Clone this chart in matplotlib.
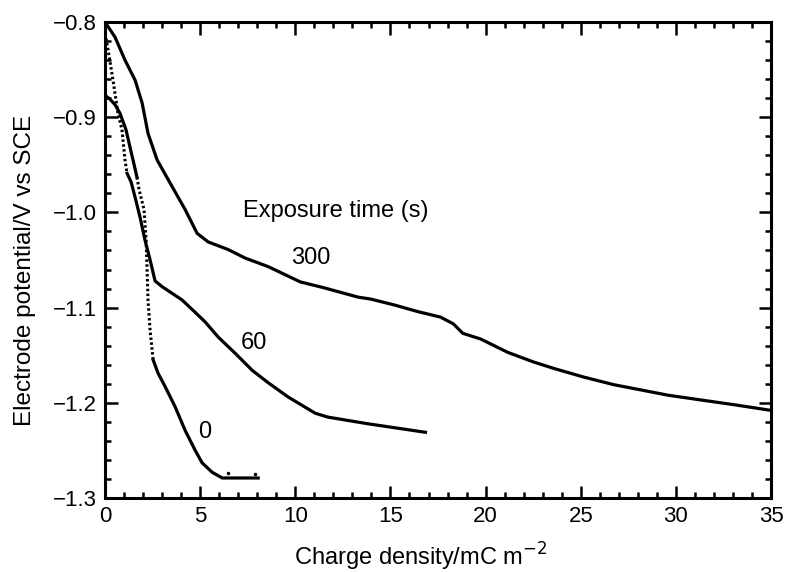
import matplotlib.pyplot as plt
from matplotlib.ticker import MultipleLocator, FuncFormatter

plt.rcParams['font.family'] = ['Liberation Sans', 'DejaVu Sans']

# 300 s exposure
x300 = [0, 0.53, 1.05, 1.58, 1.95, 2.26, 2.74, 3.53, 4.21, 4.84, 5.42, 6.47, 7.37, 8.58,
        10.26, 11.47, 13.3, 13.95, 15.16, 16.4, 17.63, 18.3, 18.8, 19.74, 21.16, 22.5,
        23.6, 25.16, 26.74, 27.26, 29.58, 31.3, 33.05, 35.0]
y300 = [-0.800, -0.816, -0.840, -0.861, -0.885, -0.917, -0.945, -0.973, -0.997, -1.022,
        -1.031, -1.039, -1.048, -1.057, -1.073, -1.079, -1.089, -1.091, -1.097, -1.104,
        -1.110, -1.117, -1.127, -1.133, -1.147, -1.157, -1.164, -1.173, -1.181, -1.183,
        -1.192, -1.197, -1.202, -1.208]

# 60 s exposure: fast (dotted) start, then solid
x60_fast = [0, 0.16, 0.42, 0.68, 0.89, 1.05, 1.16]
y60_fast = [-0.812, -0.829, -0.861, -0.896, -0.913, -0.945, -0.959]
x60 = [1.16, 1.37, 1.58, 1.84, 2.1, 2.37, 2.63, 3.0, 4.05, 4.74, 5.26, 5.95, 6.84, 7.74,
       8.58, 9.63, 11.05, 11.7, 13.8, 16.84]
y60 = [-0.959, -0.968, -0.984, -1.005, -1.029, -1.050, -1.072, -1.078, -1.092, -1.105,
       -1.115, -1.131, -1.148, -1.166, -1.179, -1.194, -1.211, -1.215, -1.222, -1.231]

# 0 s exposure: solid start, fast (dotted) drop, solid tail
x0_start = [0, 0.26, 0.53, 0.79, 1.1, 1.32, 1.53, 1.68]
y0_start = [-0.877, -0.881, -0.887, -0.896, -0.913, -0.932, -0.950, -0.963]
x0_fast = [1.68, 1.79, 2.05, 2.16, 2.21, 2.26, 2.37, 2.53]
y0_fast = [-0.963, -0.976, -0.997, -1.029, -1.060, -1.092, -1.124, -1.155]
x0_tail = [2.53, 2.79, 3.16, 3.68, 4.21, 4.74, 5.1, 5.63, 6.16, 7.0, 8.05]
y0_tail = [-1.155, -1.169, -1.183, -1.204, -1.229, -1.250, -1.263, -1.273, -1.279, -1.279, -1.279]
x0_specks = [6.45, 7.9]
y0_specks = [-1.274, -1.275]

fig = plt.figure(figsize=(7.86, 5.72), dpi=100)
ax = fig.add_axes([0.1336, 0.1294, 0.8474, 0.8321])

lw = 2.3
ax.plot(x300, y300, color='black', lw=lw)
ax.plot(x60_fast, y60_fast, color='black', lw=2.2, linestyle=(0, (0.8, 0.8)))
ax.plot(x60, y60, color='black', lw=lw)
ax.plot(x0_start, y0_start, color='black', lw=lw)
ax.plot(x0_fast, y0_fast, color='black', lw=2.2, linestyle=(0, (0.8, 0.8)))
ax.plot(x0_tail, y0_tail, color='black', lw=lw)
ax.plot(x0_specks, y0_specks, 'k.', ms=3)

ax.text(7.26, -0.9985, "Exposure time (s)", fontsize=17, va='center', ha='left')
ax.text(10.8, -1.048, "300", fontsize=17, va='center', ha='center')
ax.text(7.8, -1.137, "60", fontsize=17, va='center', ha='center')
ax.text(5.26, -1.231, "0", fontsize=17, va='center', ha='center')

ax.set_xlim(0, 35)
ax.set_ylim(-1.3, -0.8)
ax.xaxis.set_major_locator(MultipleLocator(5))
ax.xaxis.set_minor_locator(MultipleLocator(1))
ax.yaxis.set_major_locator(MultipleLocator(0.1))
ax.yaxis.set_minor_locator(MultipleLocator(0.02))
ax.yaxis.set_major_formatter(FuncFormatter(lambda v, p: ('%.1f' % v).replace('-', '\u2212')))
ax.tick_params(which='both', direction='in', top=True, right=True, labelsize=16, width=1.8)
ax.tick_params(which='major', length=9, pad=6)
ax.tick_params(which='minor', length=4.5)
for s in ax.spines.values():
    s.set_linewidth(2.2)

fig.text(421 / 786, 1 - 557 / 572, "Charge density/mC m$^{-2}$", fontsize=17, ha='center', va='center')
fig.text(25 / 786, 1 - 270 / 572, "Electrode potential/V vs SCE", fontsize=17.5, ha='center', va='center',
         rotation=90)

plt.savefig("out.png", dpi=100)
